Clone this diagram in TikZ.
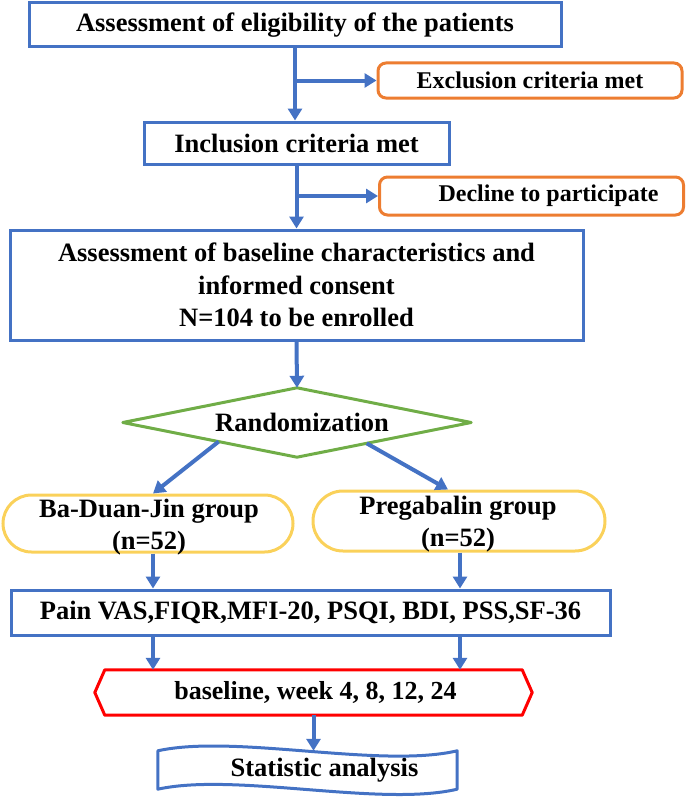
\documentclass[tikz,border=0pt]{standalone}
\usepackage{fontspec}
\setmainfont{Liberation Serif}
\usetikzlibrary{arrows.meta,calc,shapes.misc}
\definecolor{bl}{HTML}{4472C4}
\definecolor{org}{HTML}{ED7D31}
\definecolor{grn}{HTML}{70AD47}
\definecolor{ylw}{HTML}{FAD15A}
\definecolor{rd}{HTML}{FF0000}
\begin{document}
\begin{tikzpicture}[x=1pt,y=-1pt,
  txt/.style={font=\fontsize{26.5}{32.5}\selectfont\bfseries, inner sep=0pt, align=center},
  bbox/.style={txt, draw=bl, line width=3pt, rectangle},
  obox/.style={font=\fontsize{24}{28}\selectfont\bfseries, inner sep=0pt, draw=org, line width=3pt,
     rounded corners=8pt, minimum width=304pt},
  ybox/.style={draw=ylw, line width=3pt, rounded rectangle, inner sep=0pt},
  arr/.style={draw=bl, line width=4pt, -{Triangle[width=14pt,length=12pt]}},
  shp/.style={line width=3pt, line join=round}]
\useasboundingbox (0,0) rectangle (685,800);
\node[bbox, minimum width=532pt, minimum height=44pt] (box1) at (295,25) {Assessment of eligibility of the patients};
\node[obox, minimum height=35pt] (excl) at (530,80.5) {Exclusion criteria met};
\node[bbox, minimum width=305pt, minimum height=42pt] (incl) at (296.5,143) {Inclusion criteria met};
\node[obox, minimum height=38pt] (decl) at (531.5,196) {\hspace*{34pt}Decline to participate};
\node[bbox, minimum width=573pt, minimum height=110pt] (box3) at (296.5,285) {Assessment of baseline characteristics and\\informed consent\\N=104 to be enrolled};
\node[txt, minimum width=348pt, minimum height=69pt] (rand) at (297,422.5) {\hspace*{10pt}Randomization};
\draw[grn, shp] (rand.west) -- (rand.north) -- (rand.east) -- (rand.south) -- cycle;
\node[ybox, minimum width=290pt, minimum height=57pt] (ellL) at (148,523.5) {};
\node[txt] (ellLt) at (149,527) {Ba-Duan-Jin group\\(n=52)};
\node[ybox, minimum width=292pt, minimum height=60pt] (ellR) at (459,521) {};
\node[txt] (ellRt) at (458,524) {Pregabalin group\\(n=52)};
\node[bbox, minimum width=599pt, minimum height=45pt] (pain) at (310.5,612.5) {Pain VAS,FIQR,MFI-20, PSQI, BDI, PSS,SF-36};
\node[txt, font=\fontsize{26}{30}\selectfont\bfseries, minimum width=417pt, minimum height=45pt] (hex) at (313.5,692.5) {\hspace*{4pt}baseline, week 4, 8, 12, 24};
\draw[rd, shp] (hex.north west) -- (hex.north east) -- ($(hex.east)+(10,0)$) -- (hex.south east)
   -- (hex.south west) -- ($(hex.west)+(-10,0)$) -- cycle;
\node[txt, minimum width=299pt, minimum height=38pt] (stat) at (307.5,770) {\hspace*{34pt}Statistic analysis};
\draw[bl, shp] (stat.north west) .. controls +(77,-17) and +(-77,18) .. (stat.north east)
   -- (stat.south east) .. controls +(-77,18) and +(77,-17) .. (stat.south west) -- cycle;
% connectors
\draw[arr] (box1.south) -- (box1.south |- incl.north);
\draw[arr] (box1.south |- excl.west) -- (excl.west);
\draw[arr] (incl.south) -- (incl.south |- box3.north);
\draw[arr] (incl.south |- decl.west) -- (decl.west);
\draw[arr] (box3.south) -- (rand.north);
\draw[arr] ($(rand.south)!0.45!(rand.west)$) -- ($(ellL.north)+(5,0)$);
\draw[arr] ($(rand.south)!0.4!(rand.east)$) -- ($(ellR.north)+(-11,0)$);
\coordinate (cl) at ($(ellL.south)+(5,0)$);
\coordinate (cr) at ($(ellR.south)+(1,0)$);
\draw[arr] (cl) -- (cl |- pain.north);
\draw[arr] (cr) -- (cr |- pain.north);
\draw[arr] (cl |- pain.south) -- (cl |- hex.north);
\draw[arr] (cr |- pain.south) -- (cr |- hex.north);
\draw[arr] (hex.south) -- (hex.south |- stat.north);
\end{tikzpicture}
\end{document}
